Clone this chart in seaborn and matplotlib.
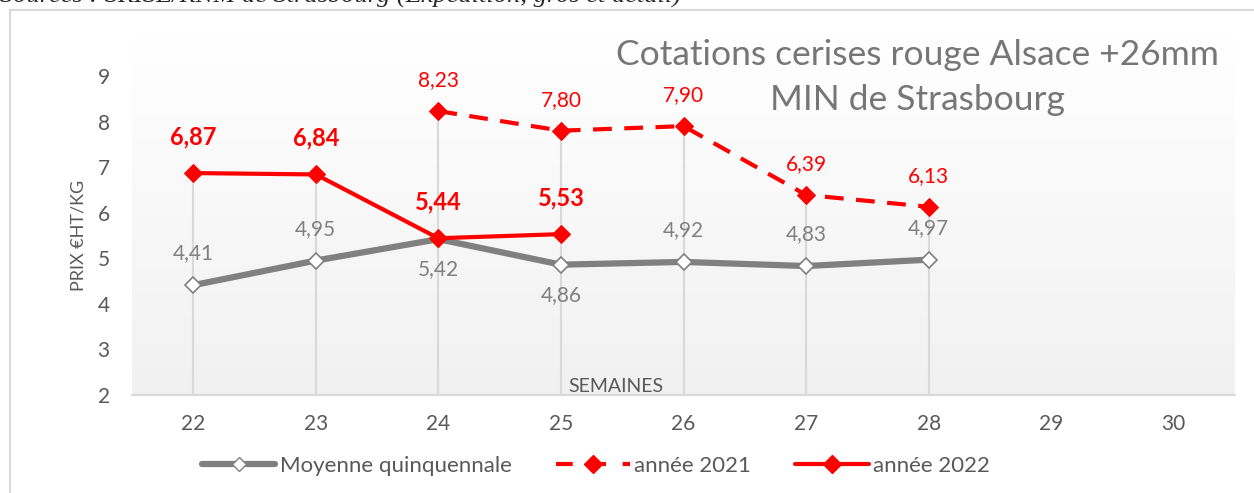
import numpy as np
import pandas as pd
import matplotlib
matplotlib.use("Agg")
import matplotlib.pyplot as plt
from matplotlib.colors import LinearSegmentedColormap
from matplotlib.lines import Line2D
import seaborn as sns

weeks = [22, 23, 24, 25, 26, 27, 28, 29, 30]
moy_weeks = [22, 23, 24, 25, 26, 27, 28]
moy_vals = [4.41, 4.95, 5.42, 4.86, 4.92, 4.83, 4.97]
y21_weeks = [24, 25, 26, 27, 28]
y21_vals = [8.23, 7.80, 7.90, 6.39, 6.13]
y22_weeks = [22, 23, 24, 25]
y22_vals = [6.87, 6.84, 5.44, 5.53]
moy_label_pos = ["above", "above", "below", "below", "above", "above", "above"]

title_l1 = "Cotations cerises rouge Alsace +26mm"
title_l2 = "MIN de Strasbourg"
source = "Sources : SRISE/RNM de Strasbourg (Expédition, gros et détail)"

sns.set_style("white")
plt.rcParams['font.family'] = ['Lato', 'DejaVu Sans']

GRAY = "#808080"
TXT = "#595959"
RED = "#ff0000"

fig = plt.figure(figsize=(12.54, 4.93), dpi=100)
ax = fig.add_axes([132/1254, 1-395/493, (1235-132)/1254, (395-76)/493])

# gradient background (white at top -> light gray at bottom)
cmap = LinearSegmentedColormap.from_list("g", ["#ffffff", "#f1f1f1"])
grad = np.linspace(0, 1, 256).reshape(-1, 1)
ax.imshow(grad, extent=[0, 1, 0, 1.12], origin="upper", transform=ax.transAxes,
          cmap=cmap, aspect="auto", zorder=0, clip_on=False)

df_moy = pd.DataFrame({"week": moy_weeks, "val": moy_vals})
df21 = pd.DataFrame({"week": y21_weeks, "val": y21_vals})
df22 = pd.DataFrame({"week": y22_weeks, "val": y22_vals})

# drop lines
allv = pd.concat([df_moy, df21, df22]).groupby("week")["val"].max()
ax.vlines(allv.index, 2, allv.values, color="#d9d9d9", lw=1.5, zorder=1)

sns.lineplot(data=df_moy, x="week", y="val", ax=ax, color=GRAY, lw=4.5,
             marker="D", markersize=8, markerfacecolor="white",
             markeredgecolor=GRAY, markeredgewidth=1.2, zorder=3)
sns.lineplot(data=df21, x="week", y="val", ax=ax, color=RED, lw=3,
             marker="D", markersize=9, markeredgecolor=RED, zorder=4)
ax.lines[-1].set_dashes([4.5, 3])
sns.lineplot(data=df22, x="week", y="val", ax=ax, color=RED, lw=3,
             marker="D", markersize=9.5, markeredgecolor=RED, zorder=5)

def fmt(v):
    return f"{v:.2f}".replace(".", ",")

for w, v, p in zip(moy_weeks, moy_vals, moy_label_pos):
    off = 0.7 if p == "above" else -0.66
    ax.text(w, v + off, fmt(v), ha="center", va="center", color=GRAY, fontsize=15)
for w, v in zip(y21_weeks, y21_vals):
    ax.text(w, v + 0.68, fmt(v), ha="center", va="center", color=RED, fontsize=15)
for w, v in zip(y22_weeks, y22_vals):
    ax.text(w, v + 0.8, fmt(v), ha="center", va="center", color=RED,
            fontsize=17, fontweight="bold")

ax.set_xlim(21.5, 30.5)
ax.set_ylim(2, 9)
ax.set_xticks(weeks)
ax.set_xticklabels([str(w) for w in weeks])
ax.set_yticks(range(2, 10))
ax.tick_params(axis="both", colors=TXT, labelsize=15, length=0)
ax.tick_params(axis="x", pad=14)
ax.tick_params(axis="y", pad=16)
for s in ["top", "right", "left"]:
    ax.spines[s].set_visible(False)
ax.spines["bottom"].set_color("#d9d9d9")
ax.spines["bottom"].set_linewidth(1.5)
ax.set_xlabel("")
ax.set_ylabel("PRIX €HT/KG", color=TXT, fontsize=13, labelpad=8)
ax.text(25.45, 2.0, "SEMAINES", ha="center", va="bottom", color=TXT, fontsize=14)

fig.text(917/1254, 1-55/493, title_l1, ha="center", va="center", color="#767676",
         fontsize=25.5)
fig.text(917/1254, 1-100/493, title_l2, ha="center", va="center", color="#767676",
         fontsize=25.5)

# outer border
fig.add_artist(Line2D([9.5/1254, 9.5/1254], [0, 1-10/493], color="#d9d9d9", lw=1.5,
                      transform=fig.transFigure))
fig.add_artist(Line2D([9.5/1254, 1], [1-10/493, 1-10/493], color="#d9d9d9", lw=1.5,
                      transform=fig.transFigure))
fig.text(0, 1-2.5/493, source, ha="left", va="baseline", fontsize=19,
         family="Liberation Serif", style="italic")

handles = [
    Line2D([], [], color=GRAY, lw=4.5, marker="D", markersize=7,
           markerfacecolor="white", markeredgecolor=GRAY),
    Line2D([], [], color=RED, lw=3, marker="D", markersize=9, dashes=[4, 4]),
    Line2D([], [], color=RED, lw=3, marker="D", markersize=9),
]
leg = fig.legend(handles, ["Moyenne quinquennale", "année 2021", "année 2022"],
                 loc="center", bbox_to_anchor=(596/1254, 1-466/493), ncol=3,
                 frameon=False, fontsize=16, handlelength=3.3, columnspacing=2.0,
                 handletextpad=0.2)
for t in leg.get_texts():
    t.set_color(TXT)

fig.savefig("out.png", dpi=100)
